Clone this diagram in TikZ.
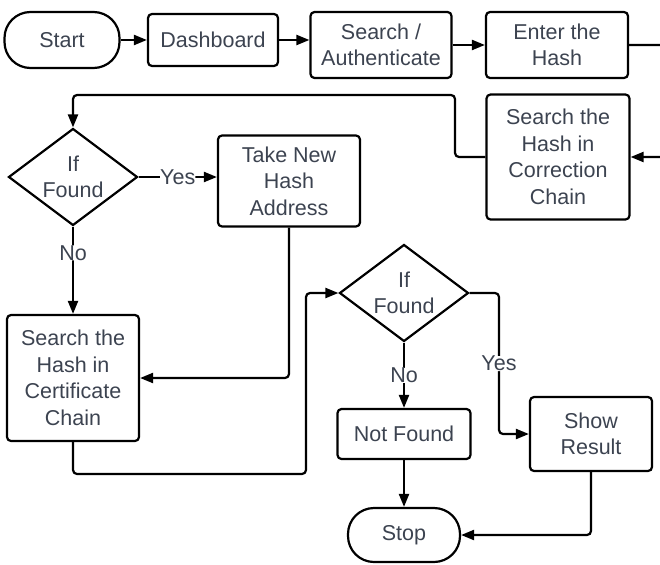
\documentclass[tikz,border=0pt]{standalone}
\usepackage{fontspec}
\setmainfont{Liberation Sans}
\usetikzlibrary{shapes.geometric, arrows.meta, positioning}
\definecolor{txtgray}{HTML}{3C4350}
\tikzstyle{arrow} = [line width=2.2pt, -{Triangle[length=13pt,width=10pt]}, rounded corners=4pt]
\tikzstyle{startstop} = [rectangle, rounded corners=26pt, draw, line width=2.2pt, text=txtgray, align=center, inner sep=0pt]
\tikzstyle{process} = [rectangle, rounded corners=4pt, draw, line width=2.2pt, text=txtgray, align=center, inner sep=0pt]
\tikzstyle{decision} = [diamond, aspect=1.33, minimum width=129pt, minimum height=97pt, draw, line width=2.2pt, text=txtgray, align=center, inner sep=0pt]
\tikzstyle{edgelabel} = [fill=white, text=txtgray, inner sep=0pt]

\begin{document}
\begin{tikzpicture}[x=1pt, y=-1pt, every node/.style={font=\fontsize{21.5}{26.5}\selectfont}]
\useasboundingbox (0,0) rectangle (660,564);

% Nodes for Flowchart
\node (start) [startstop, minimum width=115pt, minimum height=56pt] at (62,40) {Start};
\node (dash) [process, minimum width=130pt, minimum height=52pt] at (213,40) {Dashboard};
\node (auth) [process, minimum width=141pt, minimum height=66pt] at (381,45) {Search /\\Authenticate};
\node (enter) [process, minimum width=142pt, minimum height=66pt] at (557,45) {Enter the\\Hash};
\node (corr) [process, minimum width=143pt, minimum height=125pt] at (558,157) {Search the\\Hash in\\Correction\\Chain};
\node (found1) [decision] at (73,177) {If\\Found};
\node (take) [process, minimum width=142pt, minimum height=91pt] at (289,181) {Take New\\Hash\\Address};
\node (cert) [process, minimum width=132pt, minimum height=126pt] at (73,378) {Search the\\Hash in\\Certificate\\Chain};
\node (found2) [decision] at (404,293) {If\\Found};
\node (notfound) [process, minimum width=133pt, minimum height=50pt] at (404,434) {Not Found};
\node (result) [process, minimum width=122pt, minimum height=74pt] at (591,434) {Show\\Result};
\node (stop) [startstop, minimum width=112pt, minimum height=54pt] at (404,535) {Stop};

% Connecting the Nodes with Arrows
\draw [arrow] (start) -- (dash);
\draw [arrow] (dash.east) -- (dash.east -| auth.west);
\draw [arrow] (auth) -- (enter);
\draw [arrow] (enter.east) -- (672,45) |- (corr.east);
\draw [arrow] (corr.west) -- (455,157) |- (73,95) -- (found1.north);
\draw [arrow] (found1.east) -- node[edgelabel] {Yes} (found1.east -| take.west);
\draw [arrow] (found1.south) -- node[edgelabel, pos=0.3] {No} (cert.north);
\draw [arrow] (take.south) |- (cert.east);
\draw [arrow] (cert.south) -- (73,474) -| (306,293) -- (found2.west);
\draw [arrow] (found2.east) -| node[edgelabel, pos=0.75] {Yes} (499,434) -- (result.west);
\draw [arrow] (found2.south) -- node[edgelabel] {No} (notfound.north);
\draw [arrow] (notfound) -- (stop);
\draw [arrow] (result.south) |- (stop.east);

\end{tikzpicture}
\end{document}
